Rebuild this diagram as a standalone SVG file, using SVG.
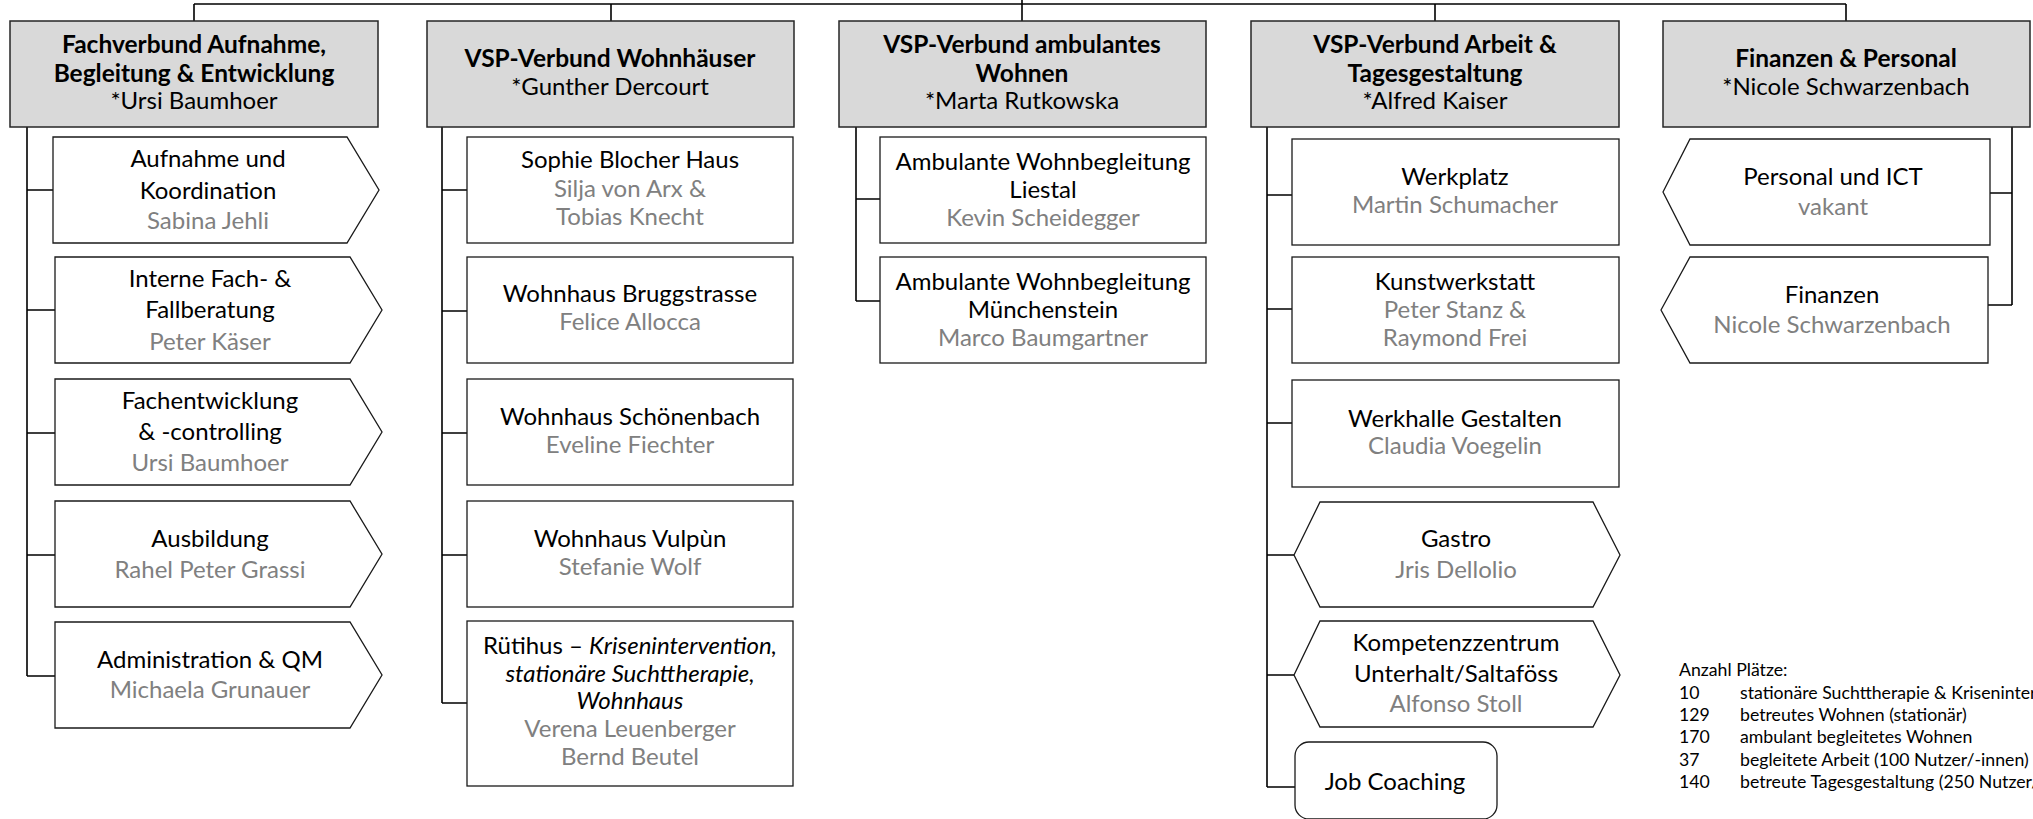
<svg xmlns="http://www.w3.org/2000/svg" width="2033" height="819" viewBox="0 0 2033 819">
<style>
.hd{fill:#d9d9d9;stroke:#262626;stroke-width:1.5}
.bx{fill:#fff;stroke:#1a1a1a;stroke-width:1.3}
.ln{fill:none;stroke:#000;stroke-width:1.6}
text{font-family:Lato,"Liberation Sans",sans-serif;text-anchor:middle;fill:#000}
.t{font-size:24px}
.b{font-size:24.5px;font-weight:bold}
.g{fill:#808080}
.it{font-style:italic}
.lg{font-size:17.7px;text-anchor:start}
</style>
<rect width="2033" height="819" fill="#fff"/>
<g id="connectors">
<path class="ln" d="M1022,0V21M194,4H1846M194,4V21M611,4V21M1435,4V21M1846,4V21"/>
<path class="ln" d="M27,127V676M27,190H53M27,310H55M27,433H55M27,555H55M27,676H55"/>
<path class="ln" d="M442,127V703M442,190H467M442,311H467M442,433H467M442,555H467M442,703H467"/>
<path class="ln" d="M856,127V301M856,199H880M856,301H880"/>
<path class="ln" d="M1267,127V787M1267,195H1292M1267,309H1292M1267,423H1292M1267,555H1294M1267,675H1294M1267,787H1295"/>
<path class="ln" d="M2012,127V305M1990,193H2012M1988,305H2012"/>
</g>
<g id="h1"><rect class="hd" x="10" y="21" width="368" height="106"/>
<text class="b" x="194" y="53">Fachverbund Aufnahme,</text><text class="b" x="194" y="82">Begleitung &amp; Entwicklung</text><text class="t" x="194" y="109">*Ursi Baumhoer</text></g>
<g id="h2"><rect class="hd" x="427" y="21" width="367" height="106"/>
<text class="b" x="610" y="67">VSP-Verbund Wohnhäuser</text><text class="t" x="610" y="95">*Gunther Dercourt</text></g>
<g id="h3"><rect class="hd" x="839" y="21" width="367" height="106"/>
<text class="b" x="1022" y="53">VSP-Verbund ambulantes</text><text class="b" x="1022" y="82">Wohnen</text><text class="t" x="1022" y="109">*Marta Rutkowska</text></g>
<g id="h4"><rect class="hd" x="1251" y="21" width="368" height="106"/>
<text class="b" x="1435" y="53">VSP-Verbund Arbeit &amp;</text><text class="b" x="1435" y="82">Tagesgestaltung</text><text class="t" x="1435" y="109">*Alfred Kaiser</text></g>
<g id="h5"><rect class="hd" x="1663" y="21" width="367" height="106"/>
<text class="b" x="1846" y="67">Finanzen &amp; Personal</text><text class="t" x="1846" y="95">*Nicole Schwarzenbach</text></g>

<g id="c1a"><polygon class="bx" points="53,137 347,137 379,190 347,243 53,243"/>
<text class="t" x="208" y="167">Aufnahme und</text><text class="t" x="208" y="199">Koordination</text><text class="t g" x="208" y="229">Sabina Jehli</text></g>
<g id="c1b"><polygon class="bx" points="55,257 350,257 382,310 350,363 55,363"/>
<text class="t" x="210" y="287">Interne Fach- &amp;</text><text class="t" x="210" y="318">Fallberatung</text><text class="t g" x="210" y="350">Peter Käser</text></g>
<g id="c1c"><polygon class="bx" points="55,379 350,379 382,432 350,485 55,485"/>
<text class="t" x="210" y="409">Fachentwicklung</text><text class="t" x="210" y="440">&amp; -controlling</text><text class="t g" x="210" y="471">Ursi Baumhoer</text></g>
<g id="c1d"><polygon class="bx" points="55,501 350,501 382,554 350,607 55,607"/>
<text class="t" x="210" y="547">Ausbildung</text><text class="t g" x="210" y="578">Rahel Peter Grassi</text></g>
<g id="c1e"><polygon class="bx" points="55,622 350,622 382,675 350,728 55,728"/>
<text class="t" x="210" y="668">Administration &amp; QM</text><text class="t g" x="210" y="698">Michaela Grunauer</text></g>

<g id="c2a"><rect class="bx" x="467" y="137" width="326" height="106"/>
<text class="t" x="630" y="168">Sophie Blocher Haus</text><text class="t g" x="630" y="197">Silja von Arx &amp;</text><text class="t g" x="630" y="225">Tobias Knecht</text></g>
<g id="c2b"><rect class="bx" x="467" y="257" width="326" height="106"/>
<text class="t" x="630" y="302">Wohnhaus Bruggstrasse</text><text class="t g" x="630" y="330">Felice Allocca</text></g>
<g id="c2c"><rect class="bx" x="467" y="379" width="326" height="106"/>
<text class="t" x="630" y="425">Wohnhaus Schönenbach</text><text class="t g" x="630" y="453">Eveline Fiechter</text></g>
<g id="c2d"><rect class="bx" x="467" y="501" width="326" height="106"/>
<text class="t" x="630" y="547">Wohnhaus Vulpùn</text><text class="t g" x="630" y="575">Stefanie Wolf</text></g>
<g id="c2e"><rect class="bx" x="467" y="621" width="326" height="165"/>
<text class="t" x="630" y="654">Rütihus – <tspan class="it">Krisenintervention,</tspan></text>
<text class="t it" x="630" y="682">stationäre Suchttherapie,</text><text class="t it" x="630" y="709">Wohnhaus</text>
<text class="t g" x="630" y="737">Verena Leuenberger</text><text class="t g" x="630" y="765">Bernd Beutel</text></g>

<g id="c3a"><rect class="bx" x="880" y="137" width="326" height="106"/>
<text class="t" x="1043" y="170">Ambulante Wohnbegleitung</text><text class="t" x="1043" y="198">Liestal</text><text class="t g" x="1043" y="226">Kevin Scheidegger</text></g>
<g id="c3b"><rect class="bx" x="880" y="257" width="326" height="106"/>
<text class="t" x="1043" y="290">Ambulante Wohnbegleitung</text><text class="t" x="1043" y="318">Münchenstein</text><text class="t g" x="1043" y="346">Marco Baumgartner</text></g>

<g id="c4a"><rect class="bx" x="1292" y="139" width="327" height="106"/>
<text class="t" x="1455" y="185">Werkplatz</text><text class="t g" x="1455" y="213">Martin Schumacher</text></g>
<g id="c4b"><rect class="bx" x="1292" y="257" width="327" height="106"/>
<text class="t" x="1455" y="290">Kunstwerkstatt</text><text class="t g" x="1455" y="318">Peter Stanz &amp;</text><text class="t g" x="1455" y="346">Raymond Frei</text></g>
<g id="c4c"><rect class="bx" x="1292" y="380" width="327" height="107"/>
<text class="t" x="1455" y="427">Werkhalle Gestalten</text><text class="t g" x="1455" y="454">Claudia Voegelin</text></g>
<g id="c4d"><polygon class="bx" points="1294,555 1320,502 1593,502 1620,555 1593,607 1320,607"/>
<text class="t" x="1456" y="547">Gastro</text><text class="t g" x="1456" y="578">Jris Dellolio</text></g>
<g id="c4e"><polygon class="bx" points="1294,675 1320,621 1593,621 1620,675 1593,727 1320,727"/>
<text class="t" x="1456" y="651">Kompetenzzentrum</text><text class="t" x="1456" y="682">Unterhalt/Saltaföss</text><text class="t g" x="1456" y="712">Alfonso Stoll</text></g>
<g id="c4f"><rect class="bx" x="1295" y="742" width="202" height="77" rx="14"/>
<text class="t" x="1395" y="790">Job Coaching</text></g>

<g id="c5a"><polygon class="bx" points="1663,192 1690,139 1990,139 1990,245 1690,245"/>
<text class="t" x="1833" y="185">Personal und ICT</text><text class="t g" x="1833" y="215">vakant</text></g>
<g id="c5b"><polygon class="bx" points="1661,310 1690,257 1988,257 1988,363 1690,363"/>
<text class="t" x="1832" y="303">Finanzen</text><text class="t g" x="1832" y="333">Nicole Schwarzenbach</text></g>

<g id="legend">
<text class="lg" x="1679" y="676">Anzahl Plätze:</text>
<text class="lg" x="1679" y="699">10</text><text class="lg" x="1740" y="699">stationäre Suchttherapie &amp; Krisenintervention</text>
<text class="lg" x="1679" y="721">129</text><text class="lg" x="1740" y="721">betreutes Wohnen (stationär)</text>
<text class="lg" x="1679" y="743">170</text><text class="lg" x="1740" y="743">ambulant begleitetes Wohnen</text>
<text class="lg" x="1679" y="766">37</text><text class="lg" x="1740" y="766">begleitete Arbeit (100 Nutzer/-innen)</text>
<text class="lg" x="1679" y="788">140</text><text class="lg" x="1740" y="788">betreute Tagesgestaltung (250 Nutzer/-innen)</text>
</g>
</svg>
